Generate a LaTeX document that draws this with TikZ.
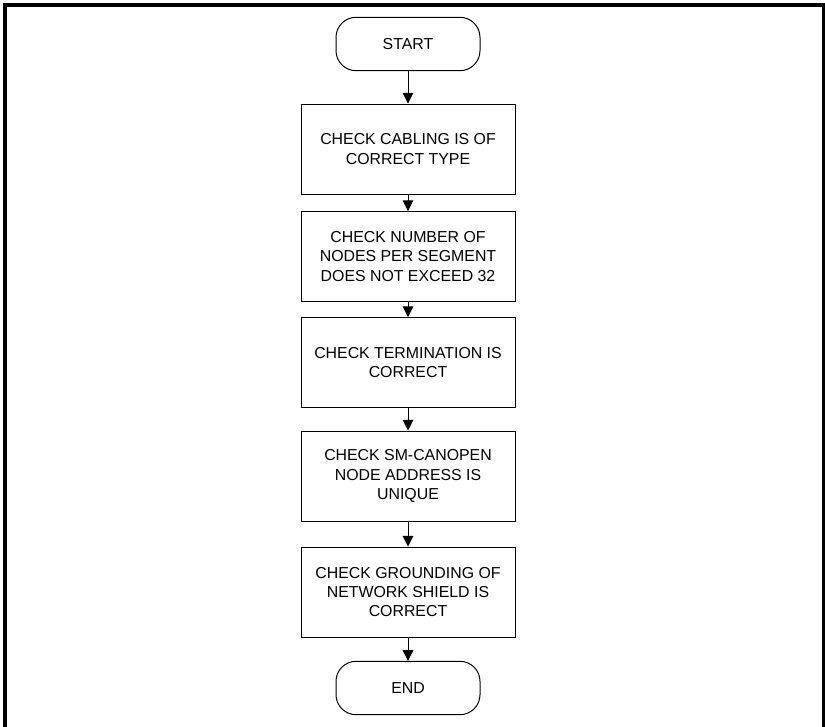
\documentclass[tikz,border=0pt]{standalone}
\usepackage{fontspec}
\setmainfont{Liberation Sans}
\usetikzlibrary{arrows.meta}

\begin{document}
\begin{tikzpicture}[x=0.75pt,y=-0.75pt,
  step box/.style={draw,line width=0.75pt,minimum width=160.5pt,minimum height=67.5pt,
    inner sep=0pt,align=center,font=\fontsize{11.9}{14.4}\selectfont},
  end box/.style={draw,line width=0.75pt,rounded corners=15pt,minimum width=108pt,
    minimum height=40pt,inner sep=0pt,font=\fontsize{11.9}{14.4}\selectfont},
  flow/.style={-{Triangle[length=8pt,width=8pt]},line width=0.75pt}]
  
  \useasboundingbox (0,0) rectangle (825,726);
  \draw[line width=3pt] (5,735) -- (5,5) -- (824,5) -- (824,735);
  
  \node[end box] (start) at (408,44) {START};
  \node[step box] (cabling) at (408,149) {CHECK CABLING IS OF\\CORRECT TYPE};
  \node[step box] (nodes) at (408,256.5) {CHECK NUMBER OF\\NODES PER SEGMENT\\DOES NOT EXCEED 32};
  \node[step box] (termination) at (408,362.5) {CHECK TERMINATION IS\\CORRECT};
  \node[step box] (address) at (408,476) {CHECK SM-CANOPEN\\NODE ADDRESS IS\\UNIQUE};
  \node[step box] (grounding) at (408,592) {CHECK GROUNDING OF\\NETWORK SHIELD IS\\CORRECT};
  \node[end box] (end) at (408,688) {END};
  \path
   (start) edge [flow] (cabling)
   (cabling) edge [flow] (nodes)
   (nodes) edge [flow] (termination)
   (termination) edge [flow] (address)
   (address) edge [flow] (grounding)
   (grounding) edge [flow] (end);
\end{tikzpicture}
\end{document}
